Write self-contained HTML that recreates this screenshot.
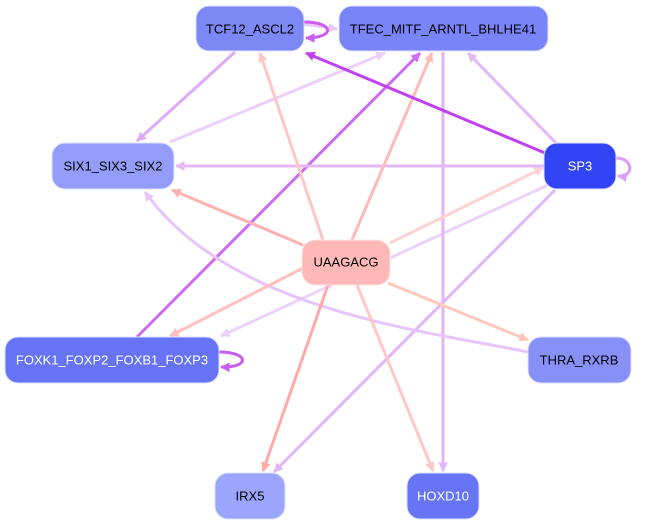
<!DOCTYPE html>
<html><head><meta charset="utf-8"><style>
html,body{margin:0;padding:0;background:#fff;width:645px;height:526px;overflow:hidden}
text{font-family:"Liberation Sans",sans-serif;font-size:13px;text-anchor:middle;dominant-baseline:central}
</style></head><body>
<svg width="645" height="526" viewBox="0 0 645 526" xmlns="http://www.w3.org/2000/svg">
<defs>
<marker id="m" viewBox="0 0 10 10" refX="9" refY="5" markerWidth="3.2" markerHeight="3.2" orient="auto" markerUnits="strokeWidth"><path d="M0,0L10,5L0,10z" fill="context-stroke"/></marker>
</defs>
<g fill="none" stroke-width="3" marker-end="url(#m)">
<path d="M556,143L468,53" stroke="#e4b8f8"/>
<path d="M548,185L221,336" stroke="#ecd2fb"/>
<path d="M555,190L274,472" stroke="#e0b6f8"/>
<path d="M235,52L137,141" stroke="#deaaf6"/>
<path d="M170,142L385,53" stroke="#eccffb"/>
<path d="M443,52L443,471" stroke="#e2b4f8"/>
<path d="M137,337L420,53" stroke="#cc6cf2"/>
<path d="M528,352C420,330 230,310 145,192" stroke="#e8c4fa"/>
<path d="M544,166L176,166" stroke="#e4b8f8"/>
<path d="M323,240L260,53" stroke="#ffc6c6"/>
<path d="M352,240L432,53" stroke="#ffbaba"/>
<path d="M303,245L172,190" stroke="#ffb0b0"/>
<path d="M390,243L543,168" stroke="#ffd2d2"/>
<path d="M303,268L170,336" stroke="#ffc0c0"/>
<path d="M388,283L528,340" stroke="#ffc8bc"/>
<path d="M328,285L263,471" stroke="#ffaaaa"/>
<path d="M357,285L433,471" stroke="#ffc8c8"/>
<path d="M545,153L306,53" stroke="#c040f2"/>
<path d="M304,24L337,29" stroke="#e8c8fa"/>
<path d="M304,22C335,22 335,38 306,38" stroke="#cc5cf0"/>
<path d="M616,158C634,158 634,178 618,176" stroke="#dc9cf6"/>
<path d="M219,352C250,352 250,368 221,367" stroke="#cc5cf0"/>
</g>
<g stroke="#dde0ff" stroke-width="1">
<rect x="196" y="6" width="108" height="45" rx="13" fill="#7b88f5"/>
<rect x="339" y="6" width="209" height="45" rx="13" fill="#7884f7"/>
<rect x="52" y="143" width="122" height="46" rx="13" fill="#939df9"/>
<rect x="544" y="143" width="72" height="46" rx="13" fill="#3344f5"/>
<rect x="302" y="240" width="88" height="45" rx="13" fill="#ffb8b8" stroke="#ffe4e4"/>
<rect x="5" y="337" width="214" height="46" rx="13" fill="#6673f5"/>
<rect x="528" y="337" width="103" height="46" rx="13" fill="#8690f7"/>
<rect x="215" y="473" width="70" height="46" rx="13" fill="#9ba5fb"/>
<rect x="407" y="473" width="72" height="46" rx="13" fill="#6674f5"/>
</g>
<text x="250" y="29">TCF12_ASCL2</text>
<text x="443" y="29">TFEC_MITF_ARNTL_BHLHE41</text>
<text x="113" y="166">SIX1_SIX3_SIX2</text>
<text x="580" y="166" fill="#fff">SP3</text>
<text x="346" y="262">UAAGACG</text>
<text x="112" y="360" fill="#fff">FOXK1_FOXP2_FOXB1_FOXP3</text>
<text x="579" y="360">THRA_RXRB</text>
<text x="250" y="496">IRX5</text>
<text x="443" y="496" fill="#fff">HOXD10</text>
</svg>
</body></html>
